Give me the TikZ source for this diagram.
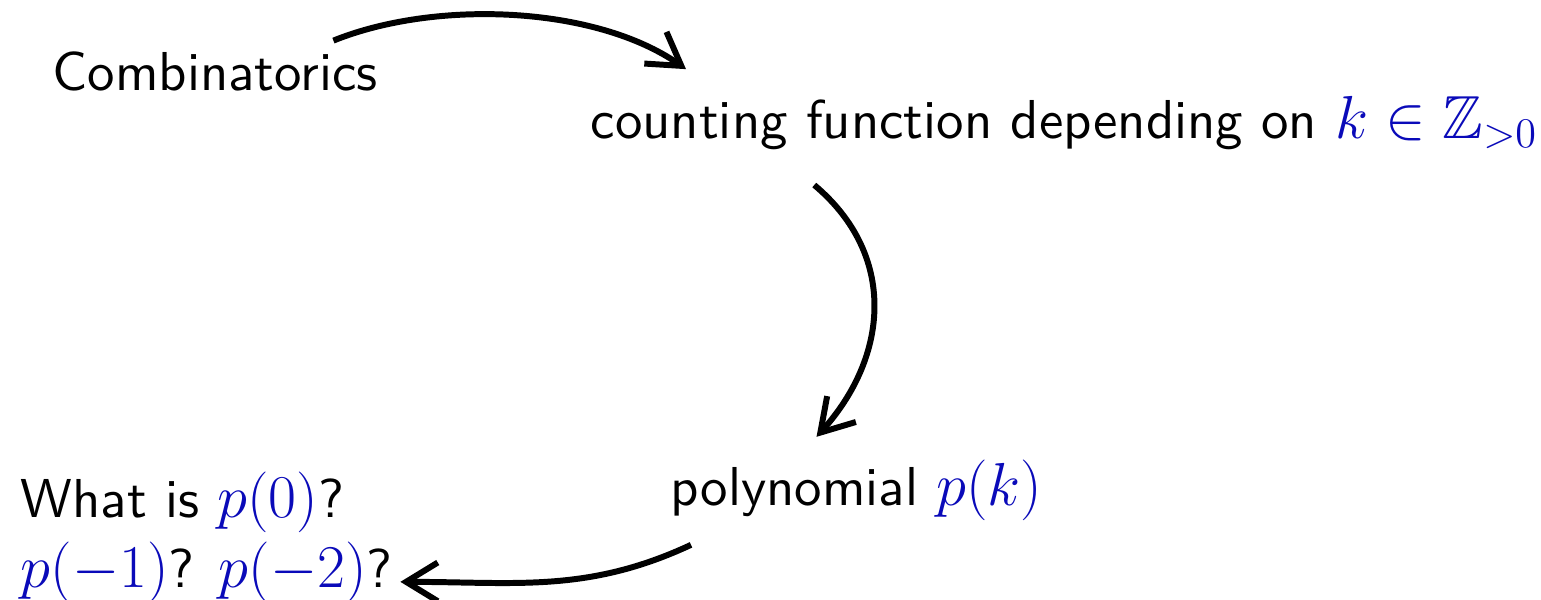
\documentclass[tikz,border=0pt]{standalone}
\usepackage{amssymb}
\usepackage{fontspec}
\setsansfont{lmsans10-regular.otf}
\usepackage{tikz}
\usetikzlibrary{arrows.meta, calc}
\definecolor{mathblue}{RGB}{10,10,185}
\newcommand{\bl}[1]{{\fontsize{17.3}{19.9}\selectfont\textcolor{mathblue}{#1}}}
\tikzset{
	bigtext/.style={font=\sffamily\fontsize{15.6}{19.9}\selectfont, inner sep=0pt}
}
\tikzset{
	bendarrow/.style={line width=1.7pt, ->}
}

\begin{document}
\begin{tikzpicture}[>={Straight Barb[length=9pt,width=11pt]}]
      \useasboundingbox (0,0) rectangle (15.41,-5.99);
      \node[bigtext, anchor=base west] (comb) at (0.52,-0.90) {Combinatorics};
      \node[bigtext, anchor=base west] (count) at (5.90,-1.38) {counting function depending on \bl{$k\in\mathbb{Z}_{>0}$}};
      \node[bigtext, anchor=base west] (poly) at (6.70,-5.05) {polynomial \bl{$p(k)$}};
      \node[bigtext, anchor=base west, align=left] (what) at (0.20,-5.87) {What is \bl{$p(0)$}?\\\bl{$p(-1)$}? \bl{$p(-2)$}?};
      \draw[bendarrow] ([shift={(-0.45,0.10)}]comb.north east) to[out=22, in=145, looseness=0.8] ([shift={(0.96,0.26)}]count.north west);
      \draw[bendarrow] ([shift={(-2.50,-0.35)}]count.south) to[out=-40, in=48, looseness=1.1] ([shift={(-0.40,0.22)}]poly.north);
      \draw[bendarrow] ([shift={(0.21,-0.24)}]poly.south west) to[out=205, in=0] ([shift={(0.07,0.21)}]what.south east);
\end{tikzpicture}
\end{document}
